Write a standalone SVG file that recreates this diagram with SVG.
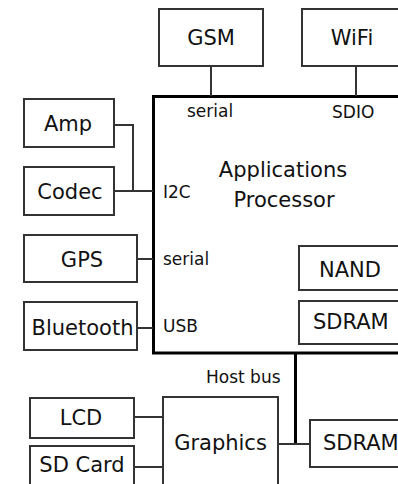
<svg xmlns="http://www.w3.org/2000/svg" width="398" height="484" viewBox="0 0 398 484">
<style>
.box{fill:#fff;stroke:#333;stroke-width:2}
.proc{fill:#fff;stroke:#000;stroke-width:3}
.big{font-family:"DejaVu Sans",Verdana,sans-serif;font-size:21px;fill:#111}
.sm{font-family:"DejaVu Sans",Verdana,sans-serif;font-size:17px;fill:#111}
.mid{text-anchor:middle}
.ln{fill:none;stroke:#333;stroke-width:2}
.bus{fill:none;stroke:#000;stroke-width:3}
</style>
<rect width="398" height="484" fill="#fff"/>
<g id="processor">
<rect class="proc" x="153.5" y="96.5" width="270" height="256.5"/>
<text class="big mid" x="283" y="177">Applications</text>
<text class="big mid" x="284" y="207">Processor</text>
<text class="sm" x="187" y="117">serial</text>
<text class="sm" x="332" y="118">SDIO</text>
<text class="sm" x="163" y="198">I2C</text>
<text class="sm" x="163" y="265">serial</text>
<text class="sm" x="163" y="332">USB</text>
</g>
<g id="gsm"><rect class="box" x="159" y="9" width="104" height="57"/><text class="big mid" x="211" y="45">GSM</text></g>
<g id="wifi"><rect class="box" x="302" y="9" width="120" height="57"/><text class="big mid" x="352" y="45">WiFi</text></g>
<g id="amp"><rect class="box" x="24" y="99" width="90" height="48"/><text class="big mid" x="68" y="131">Amp</text></g>
<g id="codec"><rect class="box" x="24" y="167" width="90" height="48"/><text class="big mid" x="70" y="199">Codec</text></g>
<g id="gps"><rect class="box" x="24" y="235" width="113" height="47"/><text class="big mid" x="82" y="267">GPS</text></g>
<g id="bluetooth"><rect class="box" x="24" y="302" width="113" height="48"/><text class="big mid" x="82.5" y="335">Bluetooth</text></g>
<g id="nand"><rect class="box" x="299" y="246" width="120" height="44"/><text class="big mid" x="350" y="277">NAND</text></g>
<g id="sdram1"><rect class="box" x="299" y="301" width="120" height="43"/><text class="big" x="313" y="329">SDRAM</text></g>
<g id="graphics"><rect class="box" x="163" y="397" width="115" height="100"/><text class="big mid" x="220.5" y="450">Graphics</text></g>
<g id="sdram2"><rect class="box" x="310" y="420" width="120" height="47"/><text class="big" x="323" y="450">SDRAM</text></g>
<g id="lcd"><rect class="box" x="30" y="398" width="104" height="40"/><text class="big mid" x="81" y="425">LCD</text></g>
<g id="sdcard"><rect class="box" x="30" y="446" width="104" height="45"/><text class="big mid" x="82" y="472">SD Card</text></g>
<g id="connectors">
<line class="ln" x1="211" y1="66" x2="211" y2="96"/>
<line class="ln" x1="356" y1="66" x2="356" y2="96"/>
<polyline class="ln" points="114,125 133,125 133,191"/>
<line class="ln" x1="114" y1="191" x2="153" y2="191"/>
<line class="ln" x1="137" y1="259" x2="153" y2="259"/>
<line class="ln" x1="137" y1="328" x2="153" y2="328"/>
<line class="bus" x1="295.5" y1="353" x2="295.5" y2="445"/>
<line class="ln" x1="278" y1="444" x2="310" y2="444"/>
<line class="ln" x1="134" y1="417" x2="163" y2="417"/>
<line class="ln" x1="134" y1="467" x2="163" y2="467"/>
<text class="sm" x="206" y="383">Host bus</text>
</g>
</svg>
